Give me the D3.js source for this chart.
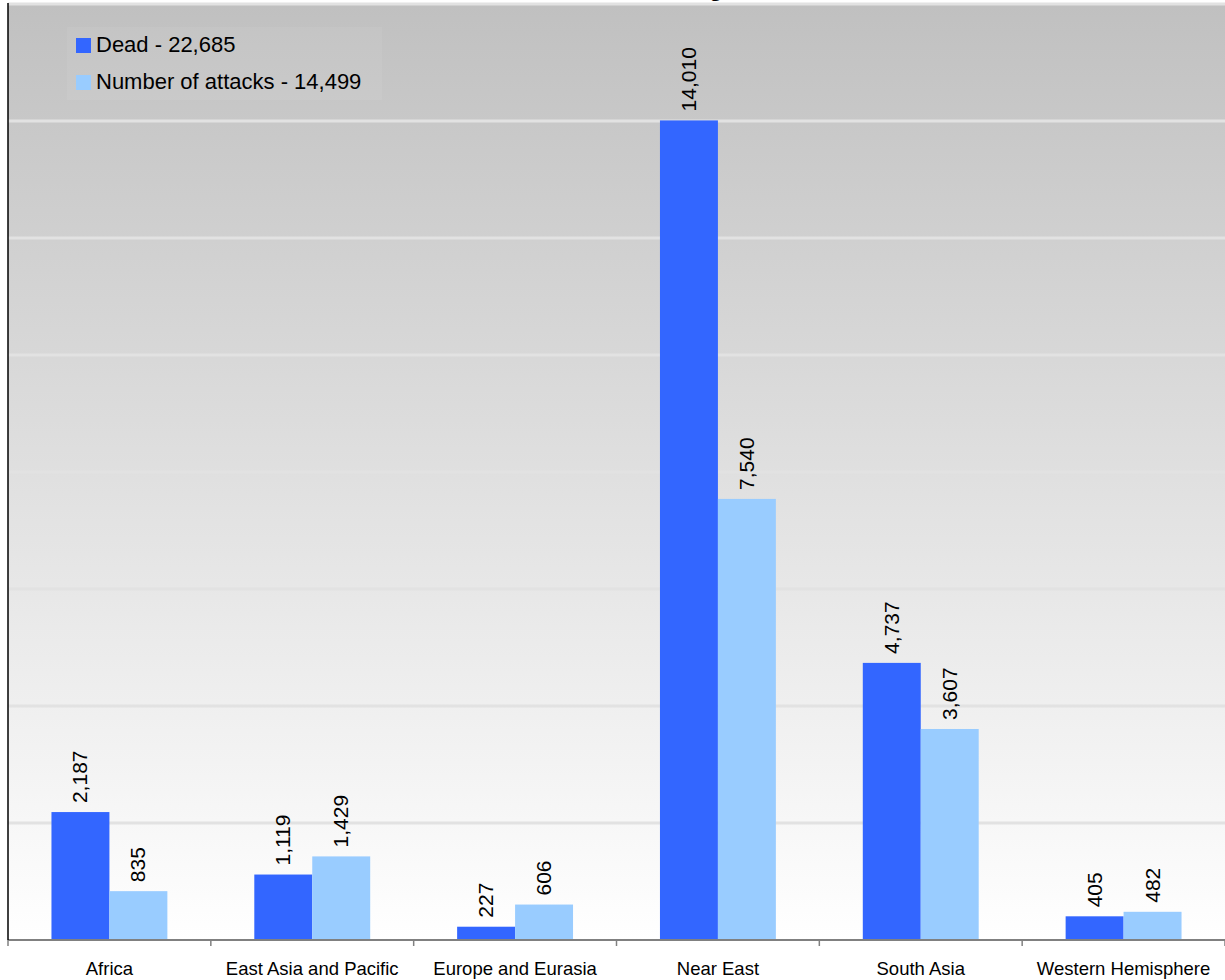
<!DOCTYPE html>
<html><head><meta charset="utf-8">
<script src="https://cdn.jsdelivr.net/npm/d3@7"></script>
<style>html,body{margin:0;padding:0;background:#fff;}svg{display:block;font-family:"Liberation Sans",Arial,sans-serif;}</style>
</head><body>
<script>
const categories = ["Africa","East Asia and Pacific","Europe and Eurasia","Near East","South Asia","Western Hemisphere"];
const dead = [2187,1119,227,14010,4737,405];
const attacks = [835,1429,606,7540,3607,482];
const seriesNames = ["Dead - 22,685","Number of attacks - 14,499"];
const seriesColors = ["#3366ff","#99ccff"];
const yTicks = [0,2000,4000,6000,8000,10000,12000,14000,16000];
const titleText = "Regional Attacks and Deaths";

(function(){
const W = 1225, H = 980;
const pLeft = 8, pRight = 1225, pTop = 4, pBottom = 940;
const svg = d3.select("body").append("svg").attr("width", W).attr("height", H);

const defs = svg.append("defs");
const grad = defs.append("linearGradient").attr("id","bg").attr("x1",0).attr("y1",0).attr("x2",0).attr("y2",1);
grad.append("stop").attr("offset","0%").attr("stop-color","#c0c0c0");
grad.append("stop").attr("offset","100%").attr("stop-color","#ffffff");

const x0 = d3.scaleBand().domain(categories).range([pLeft, pRight]).padding(0);
const x1 = d3.scaleBand().domain([0,1]).range([0, x0.bandwidth()]).paddingInner(0).paddingOuter(0.75);
const y = d3.scaleLinear().domain([0,16000]).range([pBottom, pTop]);

svg.append("rect").attr("x", pLeft).attr("y", y(16000)-1).attr("width", pRight-pLeft).attr("height", pBottom - y(16000)+1).attr("fill","url(#bg)");

// gridlines
svg.append("g").selectAll("line").data(yTicks.filter(d=>d>0)).join("line")
  .attr("x1", pLeft).attr("x2", pRight).attr("y1", d=>y(d)).attr("y2", d=>y(d))
  .attr("stroke","#e2e2e2").attr("stroke-width",3);

// title (mostly above the visible area)
const title = svg.append("text").attr("y",-4).attr("font-size",24).attr("font-weight","bold").attr("fill","#000").text(titleText);
const gi = titleText.indexOf("g");
const pre = title.node().getSubStringLength(0, gi);
const gw = title.node().getSubStringLength(gi, 1);
title.attr("x", 716 - pre - gw/2);

// bars
const series = [dead, attacks];
const groups = svg.append("g").selectAll("g").data(categories).join("g")
  .attr("transform", c => `translate(${x0(c)},0)`);
groups.selectAll("rect").data((c,i)=>series.map((s,k)=>({k, v:s[i]}))).join("rect")
  .attr("x", d=>x1(d.k)).attr("width", x1.bandwidth())
  .attr("y", d=>y(d.v)).attr("height", d=>pBottom - y(d.v))
  .attr("fill", d=>seriesColors[d.k]);
groups.selectAll("text").data((c,i)=>series.map((s,k)=>({k, v:s[i]}))).join("text")
  .attr("transform", d=>`translate(${x1(d.k)+x1.bandwidth()/2 + 7},${y(d.v)-9}) rotate(-90)`)
  .attr("font-size",21).attr("fill","#000")
  .text(d=>d3.format(",")(d.v));

// axes
svg.append("line").attr("x1",pLeft).attr("x2",pRight).attr("y1",pBottom).attr("y2",pBottom).attr("stroke","#808080").attr("stroke-width",2);
svg.append("line").attr("x1",pLeft).attr("x2",pLeft).attr("y1",y(16000)-1).attr("y2",pBottom).attr("stroke","#000").attr("stroke-width",1.5);
const bounds = categories.map(c=>x0(c)).concat([pRight]);
svg.append("g").selectAll("line").data(bounds).join("line")
  .attr("x1",d=>d).attr("x2",d=>d).attr("y1",pBottom).attr("y2",pBottom+6).attr("stroke","#808080").attr("stroke-width",1.5);
svg.append("g").selectAll("text").data(categories).join("text")
  .attr("x", c=>x0(c)+x0.bandwidth()/2).attr("y", 975).attr("text-anchor","middle")
  .attr("font-size",18.5).attr("fill","#000").text(c=>c);

// legend
const lg = svg.append("g");
lg.append("rect").attr("x",67).attr("y",27).attr("width",315).attr("height",73).attr("fill","#ffffff").attr("opacity",0.06);
seriesNames.forEach((n,i)=>{
  const yy = 38 + i*37;
  lg.append("rect").attr("x",76).attr("y",yy).attr("width",15).attr("height",15).attr("fill",seriesColors[i]);
  lg.append("text").attr("x",96).attr("y",yy+14).attr("font-size",22).attr("fill","#000").text(n);
});
})();
</script>
</body></html>
